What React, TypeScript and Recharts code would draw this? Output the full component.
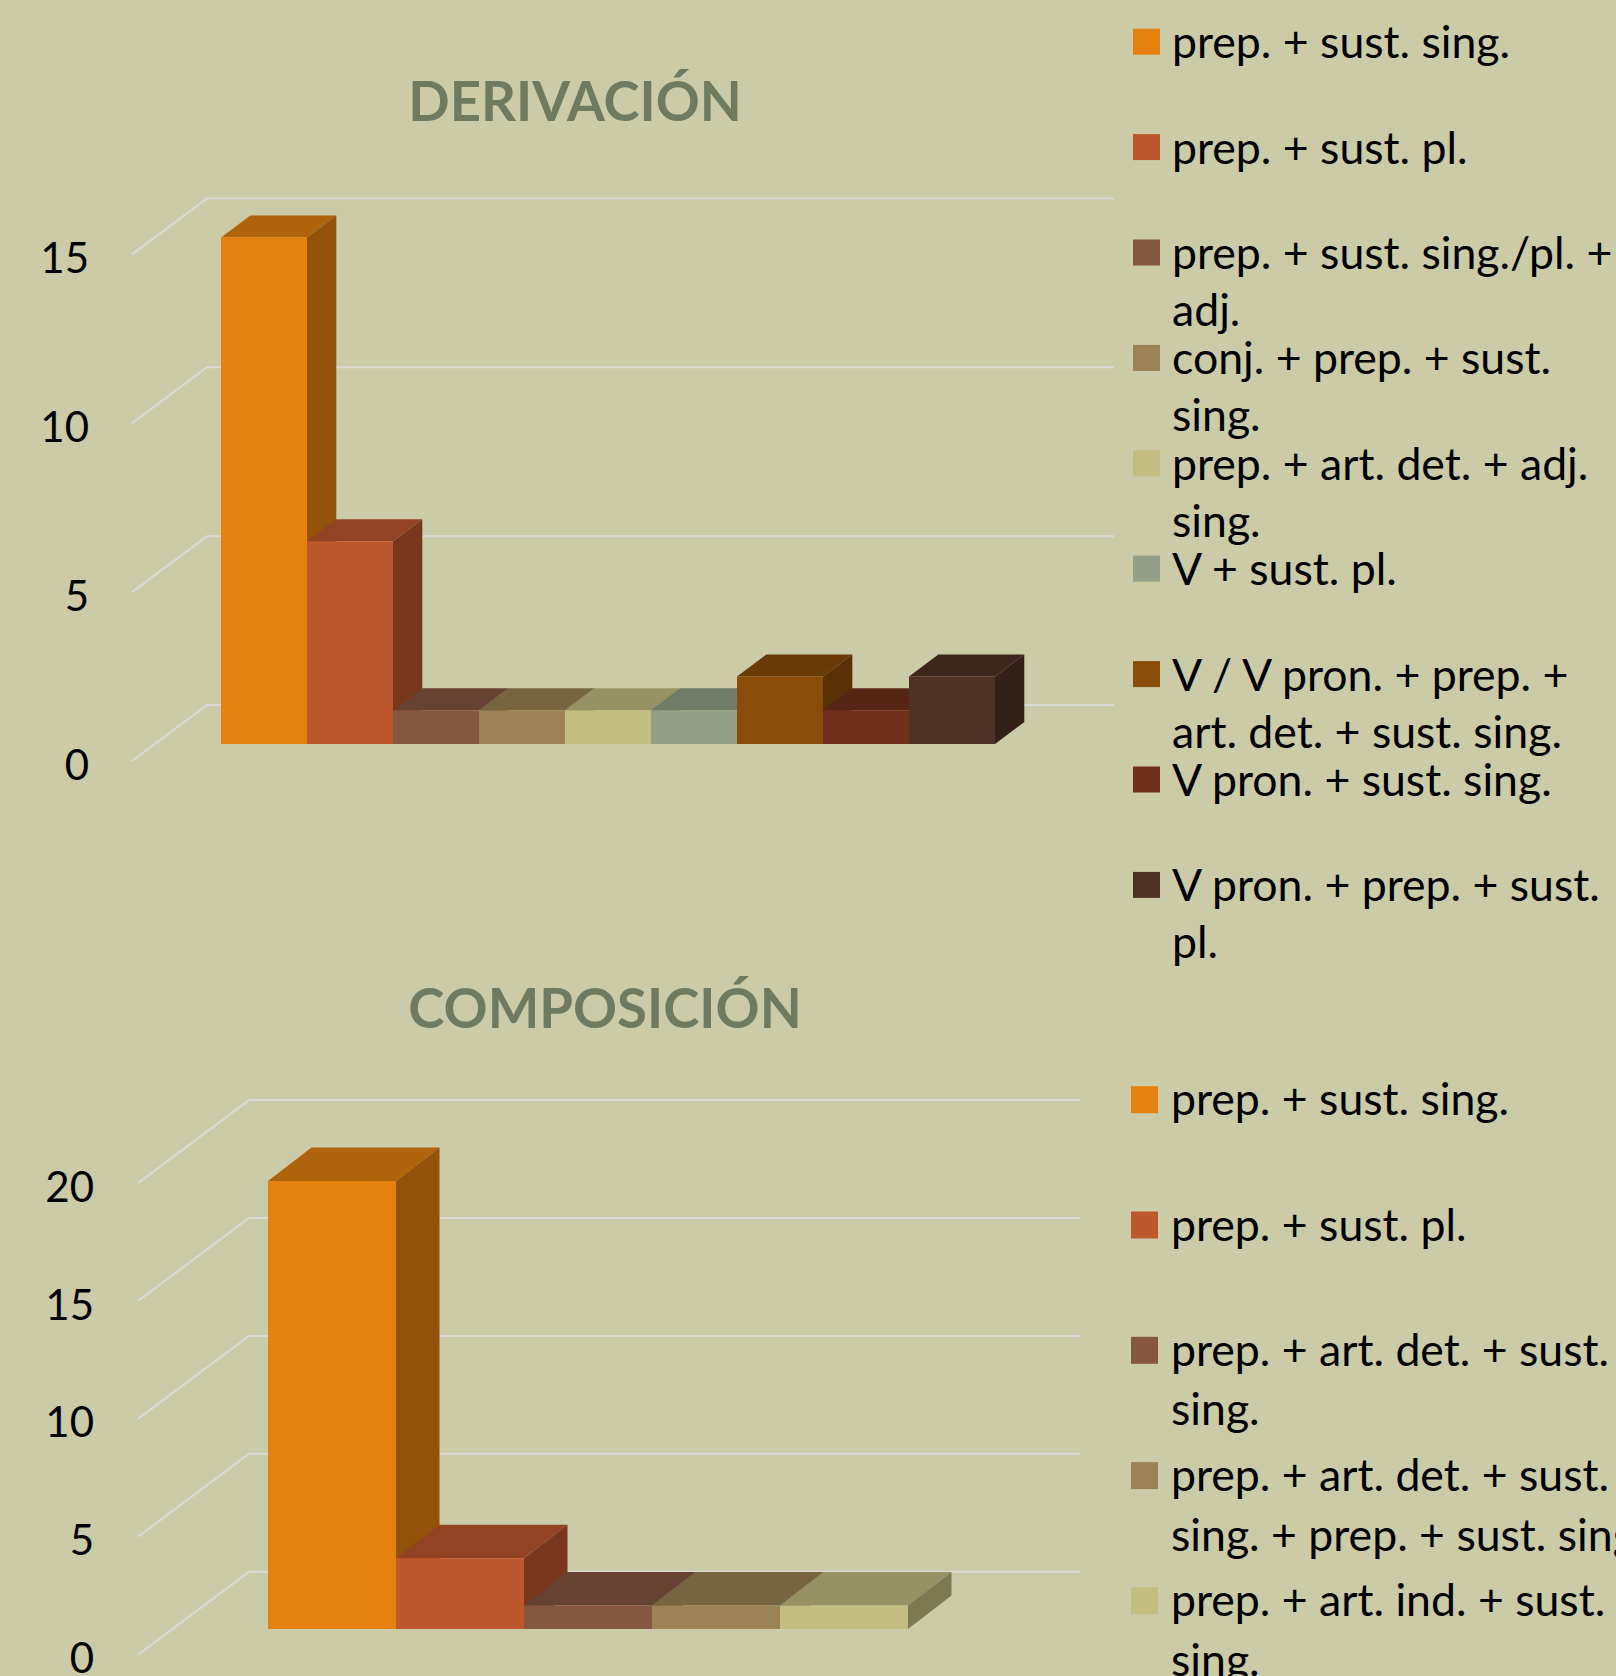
import React from 'react';
import { BarChart, Bar, XAxis, YAxis, CartesianGrid, Legend } from 'recharts';

// ---------- data ----------
const derivTitle = 'DERIVACIÓN';
const derivLabels = [
  'prep. + sust. sing.',
  'prep. + sust. pl.',
  'prep. + sust. sing./pl. +\nadj.',
  'conj. + prep. + sust.\nsing.',
  'prep. + art. det. + adj.\nsing.',
  'V + sust. pl.',
  'V / V pron. + prep. +\nart. det. + sust. sing.',
  'V pron. + sust. sing.',
  'V pron. + prep. + sust.\npl.',
];
const derivValues = [15, 6, 1, 1, 1, 1, 2, 1, 2];
const derivColors = ['#e5820f', '#bd572d', '#855642', '#9b8356', '#c3bd81', '#93a087', '#8a4c09', '#71301d', '#4f3226'];
const derivTicks = [0, 5, 10, 15];

const compTitle = 'COMPOSICIÓN';
const compLabels = [
  'prep. + sust. sing.',
  'prep. + sust. pl.',
  'prep. + art. det. + sust.\nsing.',
  'prep. + art. det. + sust.\nsing. + prep. + sust. sing.',
  'prep. + art. ind. + sust.\nsing.',
];
const compValues = [19, 3, 1, 1, 1];
const compColors = ['#e5820f', '#bd572d', '#855642', '#9b8356', '#c3bd81'];
const compTicks = [0, 5, 10, 15, 20];

// ---------- style / layout ----------
const BG = '#cbcba8';
const GRID = '#dadad6';
const TITLE_COLOR = '#6f7b61';
const FONT = "Lato, 'Open Sans', sans-serif";
const W = 1616;

type Geo = {
  top: number; height: number; plotTop: number; plotBottom: number; plotLeft: number; plotRight: number;
  frontOff: number; floorDx: number; floorDy: number; frontX: number; backEndX: number;
  barDx: number; barDy: number; labelRight: number; labelDy: number; tickSize: number;
  titleX: number; titleY: number; titleSize: number;
  sqX: number; sqTop0: number; step: number; sqW: number; sqH: number;
  textX: number; baseOff: number; lineH: number; legendSize: number;
};

const topGeo: Geo = {
  top: 0, height: 900, plotTop: 237.4, plotBottom: 744, plotLeft: 221, plotRight: 999,
  frontOff: 17, floorDx: 75, floorDy: 56, frontX: 132, backEndX: 1114,
  barDx: 29.3, barDy: 22, labelRight: 89, labelDy: 3, tickSize: 42,
  titleX: 575, titleY: 120.7, titleSize: 54.5,
  sqX: 1133, sqTop0: 28.7, step: 105.4, sqW: 27, sqH: 26,
  textX: 1172, baseOff: 29.5, lineH: 57, legendSize: 44.6,
};

const bottomGeo: Geo = {
  top: 900, height: 776, plotTop: 257.4, plotBottom: 729, plotLeft: 268, plotRight: 909,
  frontOff: 25.7, floorDx: 111, floorDy: 83, frontX: 138, backEndX: 1080,
  barDx: 43.5, barDy: 33.5, labelRight: 94, labelDy: 2.5, tickSize: 42,
  titleX: 605, titleY: 127.7, titleSize: 54.6,
  sqX: 1131, sqTop0: 186.2, step: 125.3, sqW: 27, sqH: 27,
  textX: 1171, baseOff: 29, lineH: 59.5, legendSize: 44.6,
};

function shade(hex: string, k: number) {
  const n = parseInt(hex.slice(1), 16);
  const r = Math.round(((n >> 16) & 255) * k);
  const g = Math.round(((n >> 8) & 255) * k);
  const b = Math.round((n & 255) * k);
  return `rgb(${r},${g},${b})`;
}

function Chart3D({ title, labels, values, colors, ticks, geo }: {
  title: string; labels: string[]; values: number[]; colors: string[]; ticks: number[]; geo: Geo;
}) {
  const row: Record<string, number | string> = { name: title };
  values.forEach((v, i) => { row[`s${i}`] = v; });
  const data = [row];
  const margin = { top: geo.plotTop, bottom: geo.height - geo.plotBottom, left: 0, right: W - geo.plotRight };

  const gridLine = (p: any) => {
    const yf = p.y1 + geo.frontOff;
    const yk = yf - geo.floorDy;
    const bx = geo.frontX + geo.floorDx;
    return (
      <polyline key={`gl-${p.index}`} points={`${geo.frontX},${yf} ${bx},${yk} ${geo.backEndX},${yk}`}
        fill="none" stroke={GRID} strokeWidth={2} />
    );
  };

  const tickLabel = (p: any) => (
    <text x={geo.labelRight} y={p.y + geo.frontOff + geo.labelDy} textAnchor="end" dominantBaseline="central"
      fontSize={geo.tickSize} fontFamily={FONT} fill="#000">{p.payload.value}</text>
  );

  const box = (p: any) => {
    const { x, y, width, height, fill } = p;
    if (width == null || height == null) return <g />;
    const dx = geo.barDx, dy = geo.barDy;
    const x2 = x + width, y2 = y + height;
    return (
      <g>
        <polygon points={`${x},${y} ${x + dx},${y - dy} ${x2 + dx},${y - dy} ${x2},${y}`} fill={shade(fill, 0.77)} />
        <polygon points={`${x2},${y} ${x2 + dx},${y - dy} ${x2 + dx},${y2 - dy} ${x2},${y2}`} fill={shade(fill, 0.64)} />
        <rect x={x} y={y} width={width} height={height} fill={fill} />
      </g>
    );
  };

  const legendContent = (p: any) => {
    const payload = (p.payload || []).slice().sort((a: any, b: any) =>
      parseInt(String(a.dataKey).slice(1)) - parseInt(String(b.dataKey).slice(1)));
    return (
      <svg width={W} height={geo.height + 120} style={{ display: 'block', overflow: 'visible' }}>
        {payload.map((e: any, i: number) => {
          const sqTop = geo.sqTop0 + i * geo.step;
          const lines = String(e.value).split('\n');
          return (
            <g key={i}>
              <rect x={geo.sqX} y={sqTop} width={geo.sqW} height={geo.sqH} fill={e.color} />
              <text x={geo.textX} y={sqTop + geo.baseOff} fontSize={geo.legendSize} fontFamily={FONT} fill="#000">
                {lines.map((ln, j) => (
                  <tspan key={j} x={geo.textX} dy={j === 0 ? 0 : geo.lineH}>{ln}</tspan>
                ))}
              </text>
            </g>
          );
        })}
      </svg>
    );
  };

  return (
    <div style={{ position: 'absolute', left: 0, top: geo.top, width: W, height: geo.height }}>
      <BarChart width={W} height={geo.height} data={data} margin={margin} barCategoryGap={0} barGap={0}
        style={{ overflow: 'visible' }}>
        <CartesianGrid vertical={false} syncWithTicks horizontal={gridLine} />
        <XAxis dataKey="name" hide />
        <YAxis type="number" domain={[0, ticks[ticks.length - 1]]} ticks={ticks} width={geo.plotLeft}
          axisLine={false} tickLine={false} tick={tickLabel} interval={0} />
        {labels.map((l, i) => (
          <Bar key={i} dataKey={`s${i}`} name={l} fill={colors[i]} isAnimationActive={false} shape={box} />
        ))}
        <Legend layout="vertical" align="center" verticalAlign="middle"
          wrapperStyle={{ left: 0, top: 0, width: W, height: geo.height, margin: 0, padding: 0, overflow: 'visible' }}
          content={legendContent} />
      </BarChart>
      <svg width={W} height={200} style={{ position: 'absolute', left: 0, top: 0, pointerEvents: 'none' }}>
        <text x={geo.titleX} y={geo.titleY} textAnchor="middle" fontSize={geo.titleSize} fontWeight={700}
          fontFamily={FONT} fill={TITLE_COLOR}>{title}</text>
      </svg>
    </div>
  );
}

export default function App() {
  return (
    <div style={{ position: 'relative', width: W, height: 1676, background: BG, overflow: 'hidden' }}>
      <style>{'html,body{margin:0;padding:0;}'}</style>
      <Chart3D title={derivTitle} labels={derivLabels} values={derivValues} colors={derivColors} ticks={derivTicks} geo={topGeo} />
      <Chart3D title={compTitle} labels={compLabels} values={compValues} colors={compColors} ticks={compTicks} geo={bottomGeo} />
    </div>
  );
}
